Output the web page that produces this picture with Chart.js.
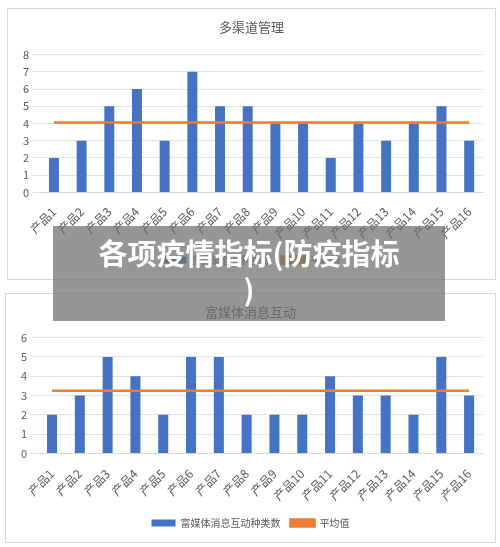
<!DOCTYPE html>
<html><head><meta charset="utf-8">
<script src="https://cdn.jsdelivr.net/npm/chart.js@4"></script>
<style>
body{margin:0;background:#fff;width:500px;height:547px;position:relative;overflow:hidden;font-family:"Noto Sans CJK SC",sans-serif}
.box{position:absolute;border:1px solid #d9d9d9;background:#fff}
#banner{position:absolute;left:53px;top:226px;width:392px;height:95px;background:rgba(110,110,110,0.72);color:#fff;font-weight:bold;font-size:29px;line-height:36px;text-align:center;padding-top:8px;box-sizing:border-box;font-family:"Noto Sans CJK SC",sans-serif}
</style></head><body>
<div class="box" style="left:7px;top:8px;width:487px;height:270px"><canvas id="c1"></canvas></div>
<div class="box" style="left:5px;top:293px;width:489px;height:248px"><canvas id="c2"></canvas></div>
<div id="banner">各项疫情指标(防疫指标<br>)</div>
<script>
const categories=["产品1","产品2","产品3","产品4","产品5","产品6","产品7","产品8","产品9","产品10","产品11","产品12","产品13","产品14","产品15","产品16"];
const topValues=[2,3,5,6,3,7,5,5,4,4,2,4,3,4,5,3];
const topAvg=[4.06,4.06,4.06,4.06,4.06,4.06,4.06,4.06,4.06,4.06,4.06,4.06,4.06,4.06,4.06,4.06];
const bottomValues=[2,3,5,4,2,5,5,2,2,2,4,3,3,2,5,3];
const bottomAvg=[3.25,3.25,3.25,3.25,3.25,3.25,3.25,3.25,3.25,3.25,3.25,3.25,3.25,3.25,3.25,3.25];
const F="'Noto Sans CJK SC', sans-serif";
function make(id,title,barLabel,vals,avg,max,h,tp,xp){
  const cv=document.getElementById(id);
  cv.parentNode.style.height=h+'px';
  new Chart(cv,{data:{labels:categories,datasets:[
    {type:'line',label:'平均值',data:avg,borderColor:'#ED7D31',backgroundColor:'#ED7D31',borderWidth:2.5,pointRadius:0,order:0},
    {type:'bar',label:barLabel,data:vals,backgroundColor:'#4472C4',barPercentage:0.36,categoryPercentage:1,order:1}
  ]},options:{responsive:true,maintainAspectRatio:false,animation:false,
    layout:{padding:{left:12,right:12,top:4,bottom:4}},
    plugins:{title:{display:true,text:title,color:'#595959',font:{family:F,size:13,weight:'normal'},padding:{top:6,bottom:tp}},
      legend:{position:'bottom',reverse:true,labels:{color:'#595959',font:{family:F,size:10},boxWidth:24,boxHeight:7}}},
    scales:{x:{grid:{display:false},border:{color:'#d9d9d9'},ticks:{padding:xp,color:'#595959',font:{family:F,size:12},maxRotation:45,minRotation:45}},
      y:{min:0,max:max,ticks:{stepSize:1,color:'#595959',font:{family:F,size:11}},grid:{color:'#e3e3e3'},border:{display:false}}}}});
}
make('c1','多渠道管理',"多渠道管理种类数",topValues,topAvg,8,270,20,4);
make('c2','富媒体消息互动','富媒体消息互动种类数',bottomValues,bottomAvg,6,248,18,5);
</script></body></html>
